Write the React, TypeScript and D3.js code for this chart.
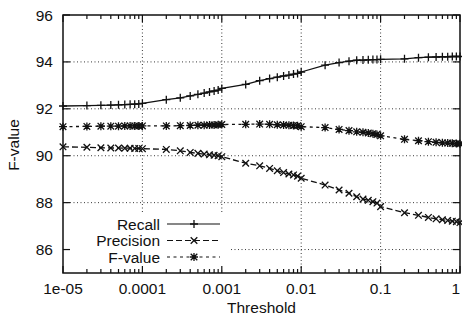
import React from 'react';
import * as d3 from 'd3';

const thresholds = [
  1e-5, 2e-5, 3e-5, 4e-5, 5e-5, 6e-5, 7e-5, 8e-5, 9e-5,
  1e-4, 2e-4, 3e-4, 4e-4, 5e-4, 6e-4, 7e-4, 8e-4, 9e-4,
  1e-3, 2e-3, 3e-3, 4e-3, 5e-3, 6e-3, 7e-3, 8e-3, 9e-3,
  0.01, 0.02, 0.03, 0.04, 0.05, 0.06, 0.07, 0.08, 0.09,
  0.1, 0.2, 0.3, 0.4, 0.5, 0.6, 0.7, 0.8, 0.9,
  1,
];

const recall = [
  92.12, 92.14, 92.15, 92.16, 92.17, 92.18, 92.19, 92.2, 92.21,
  92.23, 92.39, 92.47, 92.55, 92.62, 92.67, 92.72, 92.76, 92.8,
  92.87, 93.04, 93.2, 93.29, 93.35, 93.4, 93.44, 93.48, 93.51,
  93.57, 93.86, 93.97, 94.03, 94.07, 94.08, 94.09, 94.1, 94.1,
  94.11, 94.13, 94.18, 94.2, 94.21, 94.22, 94.22, 94.23, 94.23,
  94.23,
];

const precision = [
  90.38, 90.36, 90.34, 90.33, 90.33, 90.32, 90.32, 90.31, 90.31,
  90.3, 90.27, 90.21, 90.14, 90.1, 90.07, 90.04, 90.02, 90.0,
  89.96, 89.68, 89.57, 89.46, 89.36, 89.28, 89.22, 89.18, 89.13,
  89.04, 88.75, 88.54, 88.4, 88.25, 88.15, 88.1, 88.04, 87.98,
  87.83, 87.57, 87.46, 87.37, 87.31, 87.27, 87.24, 87.21, 87.19,
  87.15,
];

const fvalue = [
  91.24, 91.25, 91.26, 91.26, 91.26, 91.27, 91.27, 91.27, 91.27,
  91.27, 91.27, 91.28, 91.29, 91.3, 91.3, 91.31, 91.31, 91.32,
  91.33, 91.34, 91.35, 91.34, 91.32, 91.31, 91.3, 91.29, 91.28,
  91.24, 91.2, 91.12, 91.07, 91.02, 91.0, 90.97, 90.94, 90.91,
  90.85, 90.7, 90.64, 90.6, 90.57, 90.55, 90.54, 90.53, 90.52,
  90.51,
];

const xTickValues = [1e-5, 1e-4, 1e-3, 0.01, 0.1, 1];
const xTickLabels = ['1e-05', '0.0001', '0.001', '0.01', '0.1', '1'];
const yTickValues = [86, 88, 90, 92, 94, 96];

const width = 462;
const height = 320;
const margin = { left: 63, right: 2, top: 15, bottom: 47 };
const font = '"Liberation Sans", Arial, sans-serif';

type Marker = 'plus' | 'cross' | 'star';

const MarkerShape = ({ type, x, y }: { type: Marker; x: number; y: number }) => {
  const p = 4;
  const c = 3.3;
  const plus = `M${x - p},${y}H${x + p}M${x},${y - p}V${y + p}`;
  const cross = `M${x - c},${y - c}L${x + c},${y + c}M${x - c},${y + c}L${x + c},${y - c}`;
  const d = type === 'plus' ? plus : type === 'cross' ? cross : plus + cross;
  return <path d={d} stroke="#111" strokeWidth={1.3} fill="none" />;
};

export default function App() {
  const x = d3.scaleLog().domain([1e-5, 1]).range([margin.left, width - margin.right]);
  const y = d3.scaleLinear().domain([85, 96]).range([height - margin.bottom, margin.top]);

  const series = [
    { name: 'Recall', values: recall, marker: 'plus' as Marker, dash: 'none' },
    { name: 'Precision', values: precision, marker: 'cross' as Marker, dash: '6,3' },
    { name: 'F-value', values: fvalue, marker: 'star' as Marker, dash: '3,3.5' },
  ];

  const line = d3.line<number>()
    .x((_, i) => x(thresholds[i]))
    .y(d => y(d));

  const minorTicks = x.ticks().filter(t => !xTickValues.some(v => Math.abs(v - t) / t < 1e-6));

  const [x0, x1] = x.range();
  const [y0, y1] = y.range();

  const legendY = [224, 240.5, 257];

  return (
    <svg width={width} height={height} style={{ position: 'absolute', left: 0, top: 0, background: '#fff' }}>
      {/* grid */}
      <g stroke="#222" strokeWidth={0.9} strokeDasharray="1,2.5">
        {xTickValues.slice(1, -1).map(v => (
          <line key={'gx' + v} x1={x(v)} x2={x(v)} y1={y1} y2={y0} />
        ))}
        {yTickValues.slice(0, -1).map(v => (
          <line key={'gy' + v} x1={x0} x2={x1} y1={y(v)} y2={y(v)} />
        ))}
      </g>

      {/* legend background */}
      <rect x={x0 + 2} y={214} width={164} height={55} fill="#fff" />

      {/* series */}
      {series.map(s => (
        <g key={s.name}>
          <path d={line(s.values) ?? ''} fill="none" stroke="#111" strokeWidth={1.3} strokeDasharray={s.dash} />
          {s.values.map((v, i) => (
            <MarkerShape key={i} type={s.marker} x={x(thresholds[i])} y={y(v)} />
          ))}
        </g>
      ))}

      {/* ticks */}
      <g stroke="#111" strokeWidth={1.2}>
        {xTickValues.map(v => (
          <g key={'tx' + v}>
            <line x1={x(v)} x2={x(v)} y1={y0} y2={y0 - 7} />
            <line x1={x(v)} x2={x(v)} y1={y1} y2={y1 + 7} />
          </g>
        ))}
        {minorTicks.map(v => (
          <g key={'mx' + v}>
            <line x1={x(v)} x2={x(v)} y1={y0} y2={y0 - 4} />
            <line x1={x(v)} x2={x(v)} y1={y1} y2={y1 + 4} />
          </g>
        ))}
        {yTickValues.map(v => (
          <g key={'ty' + v}>
            <line x1={x0} x2={x0 + 7} y1={y(v)} y2={y(v)} />
            <line x1={x1} x2={x1 - 7} y1={y(v)} y2={y(v)} />
          </g>
        ))}
      </g>

      {/* border */}
      <rect x={x0} y={y1} width={x1 - x0} height={y0 - y1} fill="none" stroke="#111" strokeWidth={1.5} />

      {/* tick labels */}
      <g fontFamily={font} fontSize={15.5} fill="#111">
        {xTickValues.map((v, i) => (
          <text key={'lx' + v} x={Math.min(x(v), width - 1)} y={294}
            textAnchor={x(v) + 5 > width ? 'end' : 'middle'}>{xTickLabels[i]}</text>
        ))}
        {yTickValues.map(v => (
          <text key={'ly' + v} x={53} y={y(v)} dy="0.36em" textAnchor="end">{v}</text>
        ))}
        <text x={(x0 + x1) / 2} y={313} textAnchor="middle">Threshold</text>
        <text transform={`translate(19,145) rotate(-90)`} textAnchor="middle">F-value</text>
      </g>

      {/* legend */}
      {series.map((s, i) => (
        <g key={'lg' + s.name}>
          <text x={160} y={legendY[i]} dy="0.36em" textAnchor="end" fontFamily={font} fontSize={15.5} fill="#111">{s.name}</text>
          <line x1={167} x2={220} y1={legendY[i]} y2={legendY[i]} stroke="#111" strokeWidth={1.2} strokeDasharray={s.dash} />
          <MarkerShape type={s.marker} x={194} y={legendY[i]} />
        </g>
      ))}
    </svg>
  );
}
